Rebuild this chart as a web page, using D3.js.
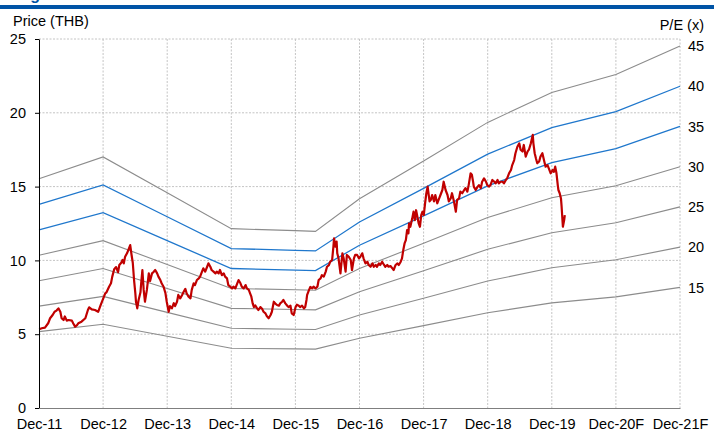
<!DOCTYPE html>
<html>
<head>
<meta charset="utf-8">
<script src="https://cdn.jsdelivr.net/npm/d3@7"></script>
<style>
  body { margin: 0; background: #fff; }
  svg { display: block; font-family: Arial, "Liberation Sans", sans-serif; }
</style>
</head>
<body>
<svg id="chart" width="714" height="432"></svg>
<script>
// x values are decimal years, Dec-11 = 2011.917
var tickYears = [2011.917, 2012.917, 2013.917, 2014.917, 2015.917, 2016.917, 2017.917, 2018.917, 2019.917, 2020.917, 2021.917];
var tickLabels = ["Dec-11", "Dec-12", "Dec-13", "Dec-14", "Dec-15", "Dec-16", "Dec-17", "Dec-18", "Dec-19", "Dec-20F", "Dec-21F"];
var priceTicks = [0, 5, 10, 15, 20, 25];

// forward EPS used for the P/E bands
var epsYears = [2011.917, 2012.917, 2013.917, 2014.917, 2015.917, 2016.23, 2016.917, 2017.917, 2018.917, 2019.917, 2020.917, 2021.917];
var epsValues = [0.345, 0.378, 0.324, 0.270, 0.267, 0.266, 0.315, 0.372, 0.430, 0.475, 0.502, 0.545];
var peMultiples = [15, 20, 25, 30, 35, 40, 45];
var peBlue = [35, 40];

// share price (THB)
var price = [
  [2011.92,5.33],[2011.96,5.40],[2012.01,5.45],[2012.06,5.74],[2012.09,6.08],[2012.13,6.30],[2012.16,6.52],[2012.19,6.60],
  [2012.22,6.75],[2012.25,6.52],[2012.27,6.08],[2012.30,5.96],[2012.32,6.20],[2012.35,5.92],[2012.38,5.96],[2012.43,5.92],
  [2012.45,5.74],[2012.48,5.51],[2012.51,5.62],[2012.53,5.74],[2012.58,5.85],[2012.64,6.08],[2012.68,6.64],[2012.70,6.82],
  [2012.74,6.68],[2012.79,6.64],[2012.84,6.52],[2012.88,6.98],[2012.92,7.43],[2012.95,7.77],[2012.97,7.84],[2013.01,8.22],
  [2013.04,8.45],[2013.06,8.90],[2013.09,9.40],[2013.12,9.55],[2013.15,9.20],[2013.17,9.69],[2013.20,9.84],[2013.22,10.03],
  [2013.24,9.80],[2013.26,10.25],[2013.29,10.48],[2013.31,10.70],[2013.34,11.04],[2013.36,10.40],[2013.38,9.84],[2013.40,8.67],
  [2013.42,7.77],[2013.43,7.20],[2013.45,6.75],[2013.47,7.30],[2013.50,7.84],[2013.51,8.40],[2013.53,9.35],[2013.55,8.00],
  [2013.57,7.20],[2013.60,8.00],[2013.63,9.12],[2013.65,8.60],[2013.68,9.12],[2013.70,9.20],[2013.73,9.35],[2013.76,9.12],
  [2013.78,8.90],[2013.81,8.67],[2013.83,8.45],[2013.86,8.22],[2013.89,7.77],[2013.91,7.20],[2013.94,6.52],[2013.96,6.90],
  [2013.99,6.75],[2014.02,7.10],[2014.04,6.90],[2014.07,7.20],[2014.09,7.66],[2014.12,7.43],[2014.15,7.66],[2014.17,7.84],
  [2014.20,8.07],[2014.22,7.77],[2014.25,7.54],[2014.28,7.43],[2014.30,8.00],[2014.33,8.45],[2014.35,8.33],[2014.38,8.67],
  [2014.41,8.78],[2014.43,8.90],[2014.46,9.24],[2014.48,9.46],[2014.51,9.24],[2014.54,9.57],[2014.56,9.80],[2014.59,9.57],
  [2014.61,9.35],[2014.64,9.24],[2014.67,9.12],[2014.69,9.24],[2014.72,9.12],[2014.74,9.35],[2014.77,9.00],[2014.80,9.12],
  [2014.82,8.90],[2014.85,8.78],[2014.87,8.33],[2014.90,8.22],[2014.93,8.10],[2014.95,8.22],[2014.98,8.10],[2015.01,8.45],
  [2015.03,8.67],[2015.06,8.45],[2015.08,8.22],[2015.11,8.10],[2015.14,8.33],[2015.16,8.10],[2015.19,8.00],[2015.21,7.77],
  [2015.23,7.54],[2015.25,7.09],[2015.27,6.84],[2015.29,6.95],[2015.32,6.75],[2015.34,6.64],[2015.37,6.84],[2015.40,6.70],
  [2015.42,6.52],[2015.45,6.41],[2015.47,6.23],[2015.50,6.08],[2015.53,6.30],[2015.55,6.52],[2015.58,7.20],[2015.60,7.09],
  [2015.63,6.98],[2015.66,6.93],[2015.68,7.09],[2015.71,7.20],[2015.73,7.32],[2015.76,7.09],[2015.79,6.93],[2015.81,6.84],
  [2015.84,6.93],[2015.86,6.41],[2015.89,6.30],[2015.92,6.84],[2015.94,7.00],[2015.97,6.93],[2015.99,6.84],[2016.02,6.93],
  [2016.05,6.75],[2016.07,6.84],[2016.09,7.32],[2016.10,7.66],[2016.13,8.00],[2016.15,8.20],[2016.18,8.10],[2016.20,8.22],
  [2016.23,8.10],[2016.26,8.22],[2016.28,8.67],[2016.31,8.78],[2016.33,9.00],[2016.36,8.90],[2016.39,9.24],[2016.41,9.57],
  [2016.44,9.68],[2016.46,9.91],[2016.49,10.03],[2016.51,10.93],[2016.52,11.50],[2016.54,10.93],[2016.56,11.27],[2016.57,10.48],
  [2016.59,10.14],[2016.62,9.12],[2016.65,10.48],[2016.67,10.14],[2016.70,9.24],[2016.72,10.37],[2016.75,10.25],[2016.78,10.03],
  [2016.80,9.35],[2016.83,10.14],[2016.85,10.37],[2016.88,10.37],[2016.91,10.14],[2016.93,10.25],[2016.96,10.48],[2016.98,10.14],
  [2017.01,9.80],[2017.04,9.91],[2017.06,9.69],[2017.09,9.57],[2017.12,9.80],[2017.14,9.57],[2017.17,9.69],[2017.19,9.57],
  [2017.22,9.80],[2017.24,9.69],[2017.27,9.91],[2017.30,9.69],[2017.32,9.57],[2017.35,9.69],[2017.37,9.57],[2017.40,9.62],
  [2017.43,9.46],[2017.45,9.35],[2017.48,9.69],[2017.51,9.80],[2017.53,9.69],[2017.56,9.91],[2017.58,10.14],[2017.60,10.70],
  [2017.62,11.15],[2017.64,11.38],[2017.66,12.06],[2017.68,11.83],[2017.69,12.51],[2017.71,12.28],[2017.74,12.85],[2017.76,13.30],
  [2017.78,12.73],[2017.80,13.40],[2017.82,12.96],[2017.84,12.51],[2017.86,12.28],[2017.88,13.07],[2017.90,13.30],[2017.92,13.07],
  [2017.94,13.87],[2017.96,14.55],[2017.98,15.00],[2018.01,14.00],[2018.03,14.10],[2018.05,14.43],[2018.08,14.00],[2018.10,14.43],
  [2018.13,13.87],[2018.16,14.20],[2018.18,14.43],[2018.21,14.77],[2018.23,15.33],[2018.26,14.77],[2018.29,14.43],[2018.31,14.00],
  [2018.34,14.20],[2018.36,14.55],[2018.39,14.00],[2018.42,13.30],[2018.44,14.10],[2018.47,14.20],[2018.49,14.66],[2018.52,14.55],
  [2018.55,14.77],[2018.57,14.90],[2018.60,14.66],[2018.62,15.10],[2018.65,15.90],[2018.67,15.80],[2018.69,15.30],[2018.70,15.00],
  [2018.73,14.77],[2018.76,15.00],[2018.78,15.10],[2018.81,14.90],[2018.83,15.33],[2018.86,15.56],[2018.89,15.33],[2018.91,15.10],
  [2018.94,15.00],[2018.96,15.10],[2018.99,15.45],[2019.02,15.33],[2019.04,15.22],[2019.07,15.45],[2019.09,15.22],[2019.12,15.33],
  [2019.15,15.33],[2019.17,15.22],[2019.20,15.45],[2019.22,15.56],[2019.25,15.90],[2019.28,16.13],[2019.30,16.46],[2019.33,16.80],
  [2019.35,17.26],[2019.38,17.70],[2019.41,17.93],[2019.43,17.50],[2019.46,17.38],[2019.48,17.82],[2019.51,17.03],[2019.54,17.38],
  [2019.56,17.50],[2019.59,17.93],[2019.62,18.50],[2019.63,17.93],[2019.65,17.26],[2019.67,16.90],[2019.69,16.58],[2019.72,16.70],
  [2019.74,17.03],[2019.77,17.26],[2019.80,16.70],[2019.82,16.35],[2019.85,16.46],[2019.87,16.24],[2019.90,15.90],[2019.93,16.13],
  [2019.95,16.00],[2019.97,16.35],[2019.99,15.90],[2020.01,15.10],[2020.02,14.77],[2020.04,14.55],[2020.06,14.20],[2020.07,13.64],
  [2020.08,12.96],[2020.09,12.28],[2020.11,12.73],[2020.12,13.07]
];

var svg = d3.select("#chart");
var plotLeft = 39, plotRight = 680, plotTop = 39, plotBottom = 408;
var fontSize = 14.5;

var x = d3.scaleLinear().domain([tickYears[0], tickYears[tickYears.length - 1]]).range([plotLeft, plotRight]);
var y = d3.scaleLinear().domain([0, 25]).range([plotBottom, plotTop]);

// header strip
svg.append("text")
  .attr("x", 16).attr("y", -0.5)
  .attr("font-size", 16).attr("font-weight", "bold")
  .attr("fill", "#0054a6")
  .text("Figure");
svg.append("rect")
  .attr("x", 0).attr("y", 5).attr("width", 714).attr("height", 4)
  .attr("fill", "#0054a6");

// gridlines
svg.append("g")
  .selectAll("line")
  .data(priceTicks.slice(1))
  .enter().append("line")
  .attr("x1", plotLeft).attr("x2", plotRight)
  .attr("y1", function(d) { return y(d); })
  .attr("y2", function(d) { return y(d); })
  .attr("stroke", "#c4c4c4")
  .attr("stroke-dasharray", "2,1.5");

svg.append("g")
  .selectAll("line")
  .data(tickYears.slice(1))
  .enter().append("line")
  .attr("x1", function(d) { return x(d); })
  .attr("x2", function(d) { return x(d); })
  .attr("y1", plotTop).attr("y2", plotBottom)
  .attr("stroke", "#c4c4c4")
  .attr("stroke-dasharray", "2,1.5");

// P/E bands
var bandLine = d3.line()
  .x(function(d) { return x(d[0]); })
  .y(function(d) { return y(d[1]); });

peMultiples.forEach(function(pe) {
  var pts = epsYears.map(function(yr, i) { return [yr, epsValues[i] * pe]; });
  var isBlue = peBlue.indexOf(pe) >= 0;
  svg.append("path")
    .datum(pts)
    .attr("d", bandLine)
    .attr("fill", "none")
    .attr("stroke", isBlue ? "#1f77cc" : "#8c8c8c")
    .attr("stroke-width", isBlue ? 1.3 : 1.1);

  svg.append("text")
    .attr("x", 688)
    .attr("y", y(pts[pts.length - 1][1]))
    .attr("dy", "0.36em")
    .attr("font-size", fontSize)
    .attr("fill", "#000")
    .text(pe);
});

// price
svg.append("path")
  .datum(price)
  .attr("d", bandLine)
  .attr("fill", "none")
  .attr("stroke", "#c00000")
  .attr("stroke-width", 2.2)
  .attr("stroke-linejoin", "round");

// axes
var yAxis = svg.append("g")
  .attr("transform", "translate(" + plotLeft + ",0)")
  .call(d3.axisLeft(y).tickValues(priceTicks).tickSize(4).tickSizeOuter(0).tickPadding(9));
yAxis.select(".domain").attr("stroke", "#000");
yAxis.selectAll(".tick line").attr("stroke", "#000");
yAxis.selectAll("text").attr("font-size", fontSize).attr("font-family", null).attr("fill", "#000");

var xAxis = svg.append("g")
  .attr("transform", "translate(0," + plotBottom + ")")
  .call(d3.axisBottom(x).tickValues(tickYears)
    .tickFormat(function(d, i) { return tickLabels[i]; })
    .tickSize(0).tickPadding(11));
xAxis.select(".domain").attr("stroke", "#7f7f7f").attr("stroke-width", 1.2);
xAxis.selectAll("text").attr("font-size", fontSize).attr("font-family", null).attr("fill", "#000");

// axis titles
svg.append("text")
  .attr("x", 13).attr("y", 26)
  .attr("font-size", fontSize)
  .text("Price (THB)");
svg.append("text")
  .attr("x", 704).attr("y", 30)
  .attr("text-anchor", "end")
  .attr("font-size", fontSize)
  .text("P/E (x)");
</script>
</body>
</html>
